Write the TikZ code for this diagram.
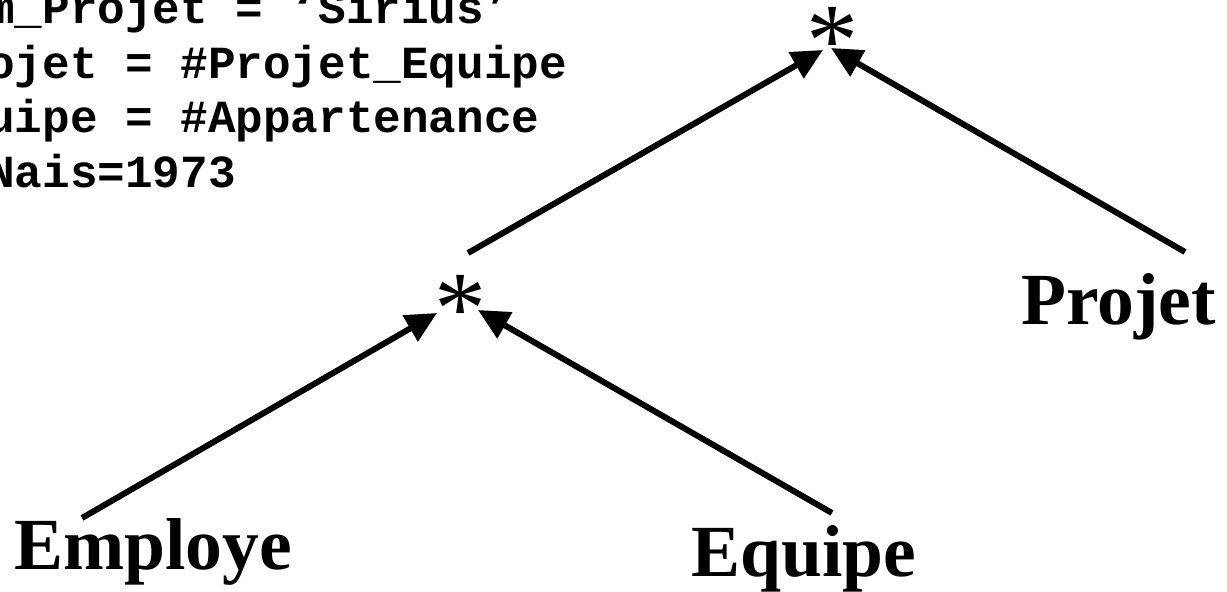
\documentclass[tikz,border=0pt]{standalone}
\usepackage{fontspec}
\setmainfont{Liberation Serif}
\newfontfamily\codefont{Liberation Mono}
\usetikzlibrary{arrows.meta}

\begin{document}
\begin{tikzpicture}[x=0.5pt, y=-0.5pt, line cap=butt, line join=miter]
  \tikzset{
    reqline/.style={anchor=base west, inner sep=0pt, font=\codefont\bfseries\fontsize{23}{27}\selectfont},
    relname/.style={anchor=base west, inner sep=0pt, font=\bfseries\fontsize{36.75}{40}\selectfont},
    opjoin/.style={anchor=base, inner sep=0pt, font=\fontsize{52}{56}\selectfont},
    arr/.style={line width=3pt, -{Triangle[length=15.5pt, width=14.5pt]}},
  }
  \useasboundingbox (0,0) rectangle (1227,592);

  % ---------- requete (coupee a gauche) ----------
  \node[reqline] (req1) at (-13,24) {m\_Projet = ‘Sirius’};
  \node[reqline] (req2) at (-13,79) {ojet = \#Projet\_Equipe};
  \node[reqline] (req3) at (-13,133) {uipe = \#Appartenance};
  \node[reqline] (req4) at (-13,188) {Nais=1973};

  % ---------- arbre de jointures ----------
  \node[opjoin] (haut) at (832,76) {*};
  \node[opjoin] (bas) at (460,344) {*};
  \node[relname] (employe) at (14,570) {Employe};
  \node[relname] (equipe) at (691,577) {Equipe};
  \node[relname] (projet) at (1021,325) {Projet};

  \coordinate (empDep) at (82,518);
  \coordinate (equDep) at (832,513);
  \coordinate (basDep) at (468,253);
  \coordinate (proDep) at (1185,252);
  \coordinate (basG) at (437,313);
  \coordinate (basD) at (478,310);
  \coordinate (hautG) at (823,50);
  \coordinate (hautD) at (831,48);

  \draw[arr] (empDep) -- (basG);
  \draw[arr] (equDep) -- (basD);
  \draw[arr] (basDep) -- (hautG);
  \draw[arr] (proDep) -- (hautD);
\end{tikzpicture}
\end{document}
